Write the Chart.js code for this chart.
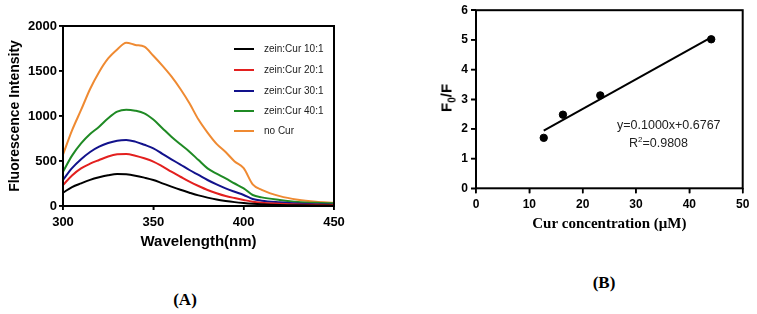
<!DOCTYPE html>
<html>
<head>
<meta charset="utf-8">
<script src="https://cdn.jsdelivr.net/npm/chart.js@4.4.1/dist/chart.umd.min.js"></script>
<style>
    body { margin: 0; background: #fff; }
    #wrap { position: relative; width: 757px; height: 314px; overflow: hidden; font-family: 'Liberation Sans', Arial, sans-serif; }
    .cv { position: absolute; top: 0; }
    .lbl { position: absolute; white-space: nowrap; line-height: 1; }
    .legend-row { position: absolute; left: 234px; height: 12px; font-size: 10px; color: #222; }
    .legend-row span.swatch { position: absolute; left: 0; top: 5px; width: 20px; height: 2px; }
    .legend-row span.txt { position: absolute; left: 30px; top: 0; white-space: nowrap; line-height: 12px; }
</style>
</head>
<body>
<div id="wrap">
    <div class="cv" style="left:0;width:380px;height:260px;"><canvas id="spectraChart" width="380" height="260"></canvas></div>
    <div class="cv" style="left:380px;width:377px;height:260px;"><canvas id="sternChart" width="377" height="260"></canvas></div>
    <div id="legendA"></div>
    <div class="lbl" style="left:445.7px;top:98px;transform:translate(-50%,-50%) rotate(-90deg);font-weight:bold;font-size:15px;">F<sub style="font-size:10px;line-height:0;">0</sub>/F</div>
    <div class="lbl" id="eqLine" style="left:617px;top:125px;transform:translateY(-50%);font-size:12.5px;color:#222;"></div>
    <div class="lbl" id="eqR2" style="left:629px;top:143px;transform:translateY(-50%);font-size:12.5px;color:#222;"></div>
    <div class="lbl" style="left:185px;top:299px;transform:translate(-50%,-50%);font-family:'Liberation Serif',serif;font-weight:bold;font-size:17px;">(A)</div>
    <div class="lbl" style="left:604px;top:282px;transform:translate(-50%,-50%);font-family:'Liberation Serif',serif;font-weight:bold;font-size:17px;">(B)</div>
</div>
<script>
// ---- panel A: fluorescence spectra ----
const wavelengths = [300, 305, 310, 315, 320, 325, 330, 335, 340, 345, 350, 355, 360, 365, 370, 375, 380, 385, 390, 395, 400, 405, 410, 420, 430, 440, 450];
const cur10 = [148, 210, 252, 290, 319, 342, 356, 352, 337, 315, 289, 252, 215, 180, 148, 118, 93, 72, 56, 43, 33, 25, 19, 11, 7, 5, 4];
const cur20 = [233, 340, 418, 470, 511, 550, 574, 578, 559, 530, 493, 440, 381, 325, 270, 222, 178, 142, 111, 88, 67, 48, 37, 26, 18, 14, 11];
const cur30 = [289, 420, 519, 600, 659, 700, 726, 733, 715, 680, 641, 580, 519, 460, 400, 345, 289, 240, 196, 158, 122, 78, 59, 41, 28, 20, 15];
const cur40 = [381, 560, 696, 800, 881, 975, 1048, 1070, 1059, 1030, 960, 865, 770, 685, 604, 510, 418, 360, 307, 250, 196, 122, 96, 67, 45, 35, 30];
const noCur = [570, 840, 1067, 1300, 1490, 1640, 1740, 1815, 1790, 1770, 1670, 1560, 1440, 1300, 1141, 960, 815, 690, 600, 495, 420, 240, 180, 110, 70, 48, 37];
const seriesNames = ['zein:Cur 10:1', 'zein:Cur 20:1', 'zein:Cur 30:1', 'zein:Cur 40:1', 'no Cur'];
const seriesColors = ['#000000', '#e3201f', '#12128c', '#1f8a24', '#ef8a32'];
const spectraTicksX = [300, 350, 400, 450];
const spectraTicksY = [0, 500, 1000, 1500, 2000];

// ---- panel B: Stern-Volmer plot ----
const curConc = [12.7, 16.3, 23.3, 44.1];
const f0OverF = [1.70, 2.48, 3.13, 5.02];
const fitSlope = 0.1000;
const fitIntercept = 0.6767;
const fitR2 = 0.9808;

// closed frame around the plot area + outward tick marks
const framePlugin = {
    id: 'frame',
    afterDraw(chart, args, opts) {
        const { ctx, chartArea: a } = chart;
        const len = opts.tick || 4;
        ctx.save();
        ctx.strokeStyle = '#000';
        ctx.lineWidth = 1.5;
        ctx.beginPath();
        chart.scales.x.ticks.forEach(t => {
            const px = chart.scales.x.getPixelForValue(t.value);
            ctx.moveTo(px, a.bottom);
            ctx.lineTo(px, a.bottom + len);
        });
        chart.scales.y.ticks.forEach(t => {
            const py = chart.scales.y.getPixelForValue(t.value);
            ctx.moveTo(a.left, py);
            ctx.lineTo(a.left - len, py);
        });
        ctx.stroke();
        ctx.lineWidth = opts.width || 2;
        ctx.strokeRect(a.left, a.top, a.right - a.left, a.bottom - a.top);
        ctx.restore();
    }
};

const sansBold = (size) => ({ family: "'Liberation Sans', Arial, sans-serif", size: size, weight: 'bold' });

function axisCommon(tickLen, pad, fontSize) {
    return {
        border: { display: false },
        grid: { display: true, drawOnChartArea: false, drawTicks: true, tickLength: tickLen, color: '#000', lineWidth: 1.5 },
        ticks: { color: '#000', font: sansBold(fontSize), padding: pad, autoSkip: false, maxRotation: 0,
                 callback: (v) => String(v) }
    };
}

function initSpectra() {
    const ctx = document.getElementById('spectraChart').getContext('2d');
    const all = [cur10, cur20, cur30, cur40, noCur];
    const datasets = all.map((vals, i) => ({
        label: seriesNames[i],
        data: vals.map((v, j) => ({ x: wavelengths[j], y: v })),
        borderColor: seriesColors[i],
        borderWidth: 2,
        pointRadius: 0,
        cubicInterpolationMode: 'monotone',
        fill: false
    }));

    const xAxis = axisCommon(4, 5, 13);
    xAxis.type = 'linear';
    xAxis.min = 300; xAxis.max = 450;
    xAxis.afterBuildTicks = (s) => { s.ticks = spectraTicksX.map(v => ({ value: v })); };
    xAxis.afterFit = (s) => { s.height = 54; };
    xAxis.title = { display: true, text: 'Wavelength(nm)', color: '#000', font: sansBold(15), padding: { top: 0, bottom: 9 } };

    const yAxis = axisCommon(4, 2, 13);
    yAxis.min = 0; yAxis.max = 2000;
    yAxis.afterBuildTicks = (s) => { s.ticks = spectraTicksY.map(v => ({ value: v })); };
    yAxis.afterFit = (s) => { s.width = 63; };
    yAxis.title = { display: true, text: 'Fluorescence Intensity', color: '#000', font: sansBold(14), padding: { top: 7, bottom: 0 } };

    new Chart(ctx, {
        type: 'line',
        data: { datasets: datasets },
        options: {
            responsive: false,
            animation: false,
            layout: { padding: { left: 0, right: 46, top: 26, bottom: 0 } },
            plugins: { legend: { display: false }, tooltip: { enabled: false }, frame: { width: 2, tick: 4 } },
            scales: { x: xAxis, y: yAxis }
        },
        plugins: [framePlugin]
    });

    // legend inside the plot, same order as the reference
    const legend = document.getElementById('legendA');
    const rowY = [49.3, 70, 90.5, 110.7, 131];
    seriesNames.forEach((name, i) => {
        const row = document.createElement('div');
        row.className = 'legend-row';
        row.style.top = (rowY[i] - 6) + 'px';
        row.innerHTML = '<span class="swatch" style="background:' + seriesColors[i] + '"></span><span class="txt">' + name + '</span>';
        legend.appendChild(row);
    });
}

function initStern() {
    const ctx = document.getElementById('sternChart').getContext('2d');
    const xLo = Math.min(...curConc);
    const xHi = Math.max(...curConc);

    const xAxis = axisCommon(5, 4, 12);
    xAxis.type = 'linear';
    xAxis.min = 0; xAxis.max = 50;
    xAxis.ticks.stepSize = 10;
    xAxis.afterFit = (s) => { s.height = 71.7; };
    xAxis.title = { display: true, text: 'Cur concentration (\u03bcM)', color: '#000',
        font: { family: "'Liberation Serif', 'Times New Roman', serif", size: 15, weight: 'bold' },
        padding: { top: 0, bottom: 26.7 } };

    const yAxis = axisCommon(5, 3, 12);
    yAxis.min = 0; yAxis.max = 6;
    yAxis.ticks.stepSize = 1;
    yAxis.afterFit = (s) => { s.width = 96; };

    new Chart(ctx, {
        type: 'scatter',
        data: {
            datasets: [
                {
                    label: 'F0/F',
                    data: curConc.map((c, i) => ({ x: c, y: f0OverF[i] })),
                    backgroundColor: '#000',
                    borderColor: '#000',
                    pointRadius: 3.7,
                    pointHoverRadius: 3.7
                },
                {
                    label: 'fit',
                    type: 'line',
                    data: [xLo, xHi].map(x => ({ x: x, y: fitSlope * x + fitIntercept })),
                    borderColor: '#000',
                    borderWidth: 2,
                    pointRadius: 0,
                    fill: false
                }
            ]
        },
        options: {
            responsive: false,
            animation: false,
            layout: { padding: { left: 0, right: 14.3, top: 9, bottom: 0 } },
            plugins: { legend: { display: false }, tooltip: { enabled: false }, frame: { width: 2, tick: 5 } },
            scales: { x: xAxis, y: yAxis }
        },
        plugins: [framePlugin]
    });

    document.getElementById('eqLine').textContent = 'y=' + fitSlope.toFixed(4) + 'x+' + fitIntercept.toFixed(4);
    document.getElementById('eqR2').innerHTML = 'R<sup style="font-size:8px;line-height:0;">2</sup>=' + fitR2.toFixed(4);
}

document.addEventListener('DOMContentLoaded', () => {
    initSpectra();
    initStern();
});
</script>
</body>
</html>
